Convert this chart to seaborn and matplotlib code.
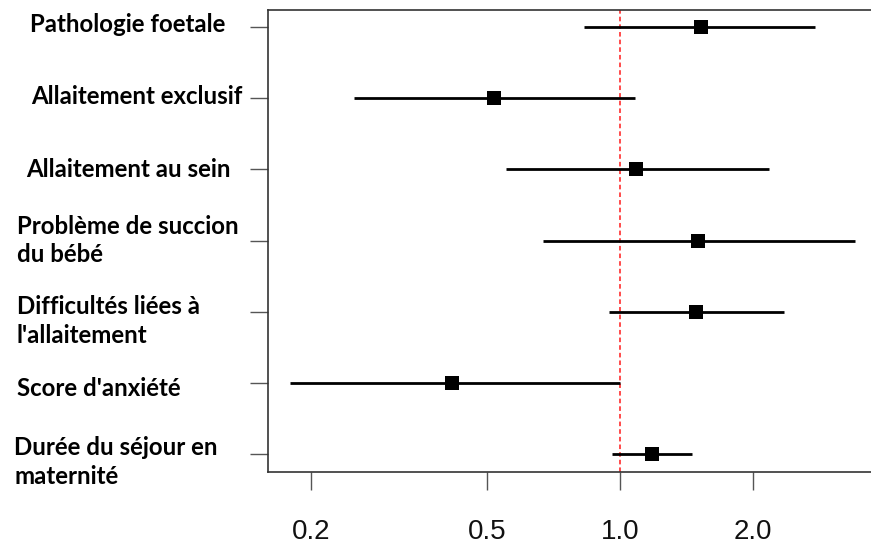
import matplotlib
matplotlib.use("Agg")
import matplotlib.pyplot as plt
import matplotlib.transforms as mtransforms
import seaborn as sns
import pandas as pd
import numpy as np

# ---- data ----
labels = [
    "Pathologie foetale",
    "Allaitement exclusif",
    "Allaitement au sein",
    "Problème de succion\ndu bébé",
    "Difficultés liées à\nl'allaitement",
    "Score d'anxiété",
    "Durée du séjour en\nmaternité",
]
estimate = [1.525, 0.519, 1.087, 1.50, 1.486, 0.417, 1.181]
ci_low = [0.829, 0.250, 0.552, 0.669, 0.944, 0.179, 0.959]
ci_high = [2.76, 1.081, 2.18, 3.40, 2.35, 1.0, 1.455]
xticks = [0.2, 0.5, 1.0, 2.0]
xtick_labels = ["0.2", "0.5", "1.0", "2.0"]

df = pd.DataFrame({"label": labels, "est": estimate, "lo": ci_low, "hi": ci_high,
                   "row": np.arange(len(labels))})

sns.set_theme(style="white")
plt.rcParams["font.family"] = ["Liberation Sans", "DejaVu Sans"]

W, H = 871, 547
fig = plt.figure(figsize=(W / 100, H / 100), dpi=100)
ax = fig.add_axes([268 / W, 1 - 472 / H, (W - 268) / W, (472 - 10) / H])

ax.set_xscale("log")
ax.hlines(df["row"], df["lo"], df["hi"], color="black", lw=2.0, zorder=2)
sns.scatterplot(data=df, x="est", y="row", marker="s", s=100, color="black",
                edgecolor="black", linewidth=0, ax=ax, zorder=3, legend=False)
ax.axvline(1.0, color="#ff1a1a", ls=(0, (3, 2)), lw=1.1, zorder=1)

ax.set_xlim(0.160, 3.70)
ax.set_ylim(6.25, -0.24)
ax.set_xlabel("")
ax.set_ylabel("")

ax.set_xticks(xticks)
ax.set_xticklabels(xtick_labels)
ax.xaxis.set_minor_locator(matplotlib.ticker.NullLocator())
ax.tick_params(axis="x", which="major", bottom=True, length=13, width=1.0,
               color="#555555", labelsize=20, pad=21, labelcolor="#111111")
ax.set_yticks(df["row"])
ax.set_yticklabels([])
ax.tick_params(axis="y", left=True, length=13, width=1.0, color="#555555")

for side in ["left", "bottom", "top"]:
    ax.spines[side].set_color("#333333")
    ax.spines[side].set_linewidth(1.2)
ax.spines["right"].set_visible(False)

# row labels placed left of axes
label_x_px = [30, 31, 26, 17, 17, 17, 14]
label_dy_px = [-3, -2, 0, 0, 9, 5, 8]
trans = mtransforms.blended_transform_factory(fig.transFigure, ax.transData)
for i, lab in enumerate(labels):
    off = mtransforms.ScaledTranslation(0, -label_dy_px[i] / 100, fig.dpi_scale_trans)
    ax.text(label_x_px[i] / W, df["row"][i], lab, transform=trans + off,
            ha="left", va="center", fontsize=17.3, fontweight="bold",
            family=["Lato", "DejaVu Sans"], linespacing=1.3, color="black")

fig.savefig("out.png", dpi=100)
